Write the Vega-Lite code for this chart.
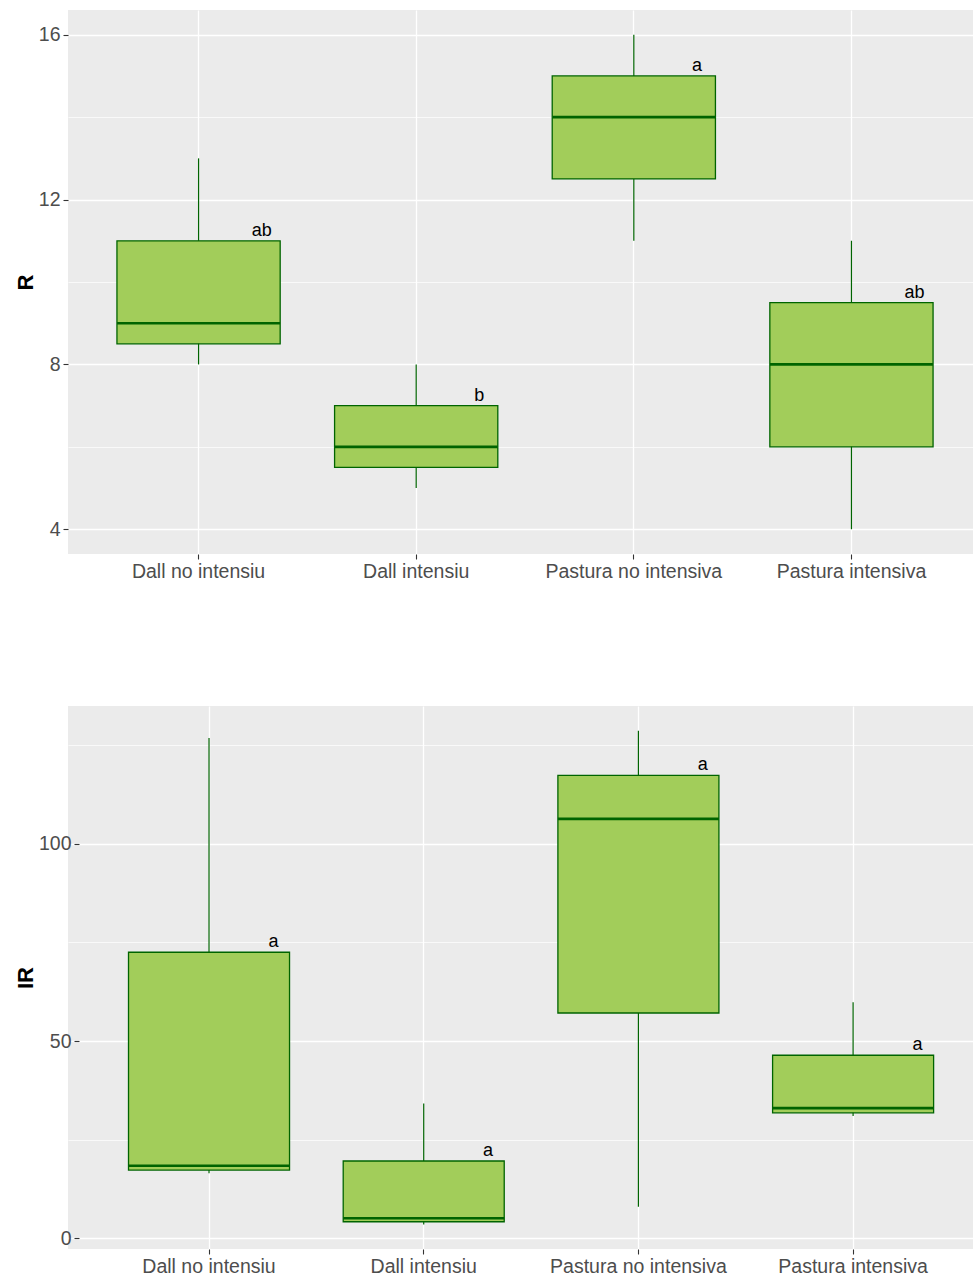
{
  "$schema": "https://vega.github.io/schema/vega-lite/v6.json",
  "padding": {"left": 14, "top": 10, "right": 0, "bottom": 0},
  "background": "#FFFFFF",
  "spacing": 125,
  "datasets": {
    "riquesa": [
      {"grupo": "Dall no intensiu", "minimo": 8, "q1": 8.5, "mediana": 9, "q3": 11, "maximo": 13, "letra": "ab"},
      {"grupo": "Dall intensiu", "minimo": 5, "q1": 5.5, "mediana": 6, "q3": 7, "maximo": 8, "letra": "b"},
      {"grupo": "Pastura no intensiva", "minimo": 11, "q1": 12.5, "mediana": 14, "q3": 15, "maximo": 16, "letra": "a"},
      {"grupo": "Pastura intensiva", "minimo": 4, "q1": 6, "mediana": 8, "q3": 9.5, "maximo": 11, "letra": "ab"}
    ],
    "ir": [
      {"grupo": "Dall no intensiu", "minimo": 16.5, "q1": 17.3, "mediana": 18.4, "q3": 72.5, "maximo": 126.8, "letra": "a"},
      {"grupo": "Dall intensiu", "minimo": 3.5, "q1": 4.2, "mediana": 5.1, "q3": 19.6, "maximo": 34.2, "letra": "a"},
      {"grupo": "Pastura no intensiva", "minimo": 8.0, "q1": 57.1, "mediana": 106.3, "q3": 117.3, "maximo": 128.6, "letra": "a"},
      {"grupo": "Pastura intensiva", "minimo": 31.0, "q1": 31.8, "mediana": 33.0, "q3": 46.4, "maximo": 59.8, "letra": "a"}
    ]
  },
  "vconcat": [
    {
      "width": 906,
      "height": 544,
      "data": {"name": "riquesa"},
      "encoding": {
        "x": {
          "field": "grupo", "type": "nominal",
          "sort": ["Dall no intensiu", "Dall intensiu", "Pastura no intensiva", "Pastura intensiva"],
          "scale": {"paddingInner": 0, "paddingOuter": 0.0815, "align": 0.613},
          "axis": {"title": null, "labelAngle": 0, "grid": true, "gridWidth": 1.3, "bandPosition": 0.5}
        }
      },
      "layer": [
        {
          "mark": {"type": "rule", "color": "#006400", "strokeWidth": 1.2},
          "encoding": {
            "y": {
              "field": "minimo", "type": "quantitative",
              "scale": {"domain": [3.4, 16.6], "nice": false, "zero": false},
              "axis": {
                "title": "R",
                "values": [4, 6, 8, 10, 12, 14, 16],
                "labelExpr": "datum.value % 4 === 0 ? datum.label : ''",
                "gridWidth": {"condition": {"test": "datum.value % 4 === 0", "value": 1.3}, "value": 0.7},
                "tickOpacity": {"condition": {"test": "datum.value % 4 === 0", "value": 1}, "value": 0}
              }
            },
            "y2": {"field": "maximo"}
          }
        },
        {
          "mark": {"type": "bar", "fill": "#A2CD5A", "stroke": "#006400", "strokeWidth": 1.3, "width": {"band": 0.75}},
          "encoding": {
            "y": {"field": "q1", "type": "quantitative"},
            "y2": {"field": "q3"}
          }
        },
        {
          "mark": {"type": "tick", "color": "#006400", "size": 163, "thickness": 2.6, "opacity": 1},
          "encoding": {
            "y": {"field": "mediana", "type": "quantitative"}
          }
        },
        {
          "mark": {"type": "text", "font": "Liberation Sans", "fontSize": 18, "color": "#000000", "align": "center", "baseline": "alphabetic", "dy": -5},
          "encoding": {
            "x": {"field": "grupo", "type": "nominal", "bandPosition": 0.79},
            "y": {"field": "q3", "type": "quantitative"},
            "text": {"field": "letra"}
          }
        }
      ]
    },
    {
      "width": 906,
      "height": 543,
      "data": {"name": "ir"},
      "encoding": {
        "x": {
          "field": "grupo", "type": "nominal",
          "sort": ["Dall no intensiu", "Dall intensiu", "Pastura no intensiva", "Pastura intensiva"],
          "scale": {"paddingInner": 0, "paddingOuter": 0.11, "align": 0.713},
          "axis": {"title": null, "labelAngle": 0, "grid": true, "gridWidth": 1.3, "bandPosition": 0.5}
        }
      },
      "layer": [
        {
          "mark": {"type": "rule", "color": "#006400", "strokeWidth": 1.2},
          "encoding": {
            "y": {
              "field": "minimo", "type": "quantitative",
              "scale": {"domain": [-2.7, 134.9], "nice": false, "zero": false},
              "axis": {
                "title": "IR",
                "offset": -11,
                "values": [0, 25, 50, 75, 100, 125],
                "labelExpr": "datum.value % 50 === 0 ? datum.label : ''",
                "gridWidth": {"condition": {"test": "datum.value % 50 === 0", "value": 1.3}, "value": 0.7},
                "tickOpacity": {"condition": {"test": "datum.value % 50 === 0", "value": 1}, "value": 0}
              }
            },
            "y2": {"field": "maximo"}
          }
        },
        {
          "mark": {"type": "bar", "fill": "#A2CD5A", "stroke": "#006400", "strokeWidth": 1.3, "width": {"band": 0.75}},
          "encoding": {
            "y": {"field": "q1", "type": "quantitative"},
            "y2": {"field": "q3"}
          }
        },
        {
          "mark": {"type": "tick", "color": "#006400", "size": 161, "thickness": 2.6, "opacity": 1},
          "encoding": {
            "y": {"field": "mediana", "type": "quantitative"}
          }
        },
        {
          "mark": {"type": "text", "font": "Liberation Sans", "fontSize": 18, "color": "#000000", "align": "center", "baseline": "alphabetic", "dy": -5},
          "encoding": {
            "x": {"field": "grupo", "type": "nominal", "bandPosition": 0.8},
            "y": {"field": "q3", "type": "quantitative"},
            "text": {"field": "letra"}
          }
        }
      ]
    }
  ],
  "config": {
    "view": {"fill": "#EBEBEB", "stroke": null},
    "axis": {
      "labelFont": "Liberation Sans",
      "labelFontSize": 19.5,
      "labelColor": "#4D4D4D",
      "labelPadding": 3,
      "tickColor": "#333333",
      "tickSize": 5,
      "tickWidth": 1.1,
      "domain": false,
      "gridColor": "#FFFFFF",
      "gridOpacity": 1,
      "titleFont": "Liberation Sans",
      "titleFontSize": 22,
      "titleFontWeight": "bold",
      "titleColor": "#000000",
      "titlePadding": 1
    }
  }
}
